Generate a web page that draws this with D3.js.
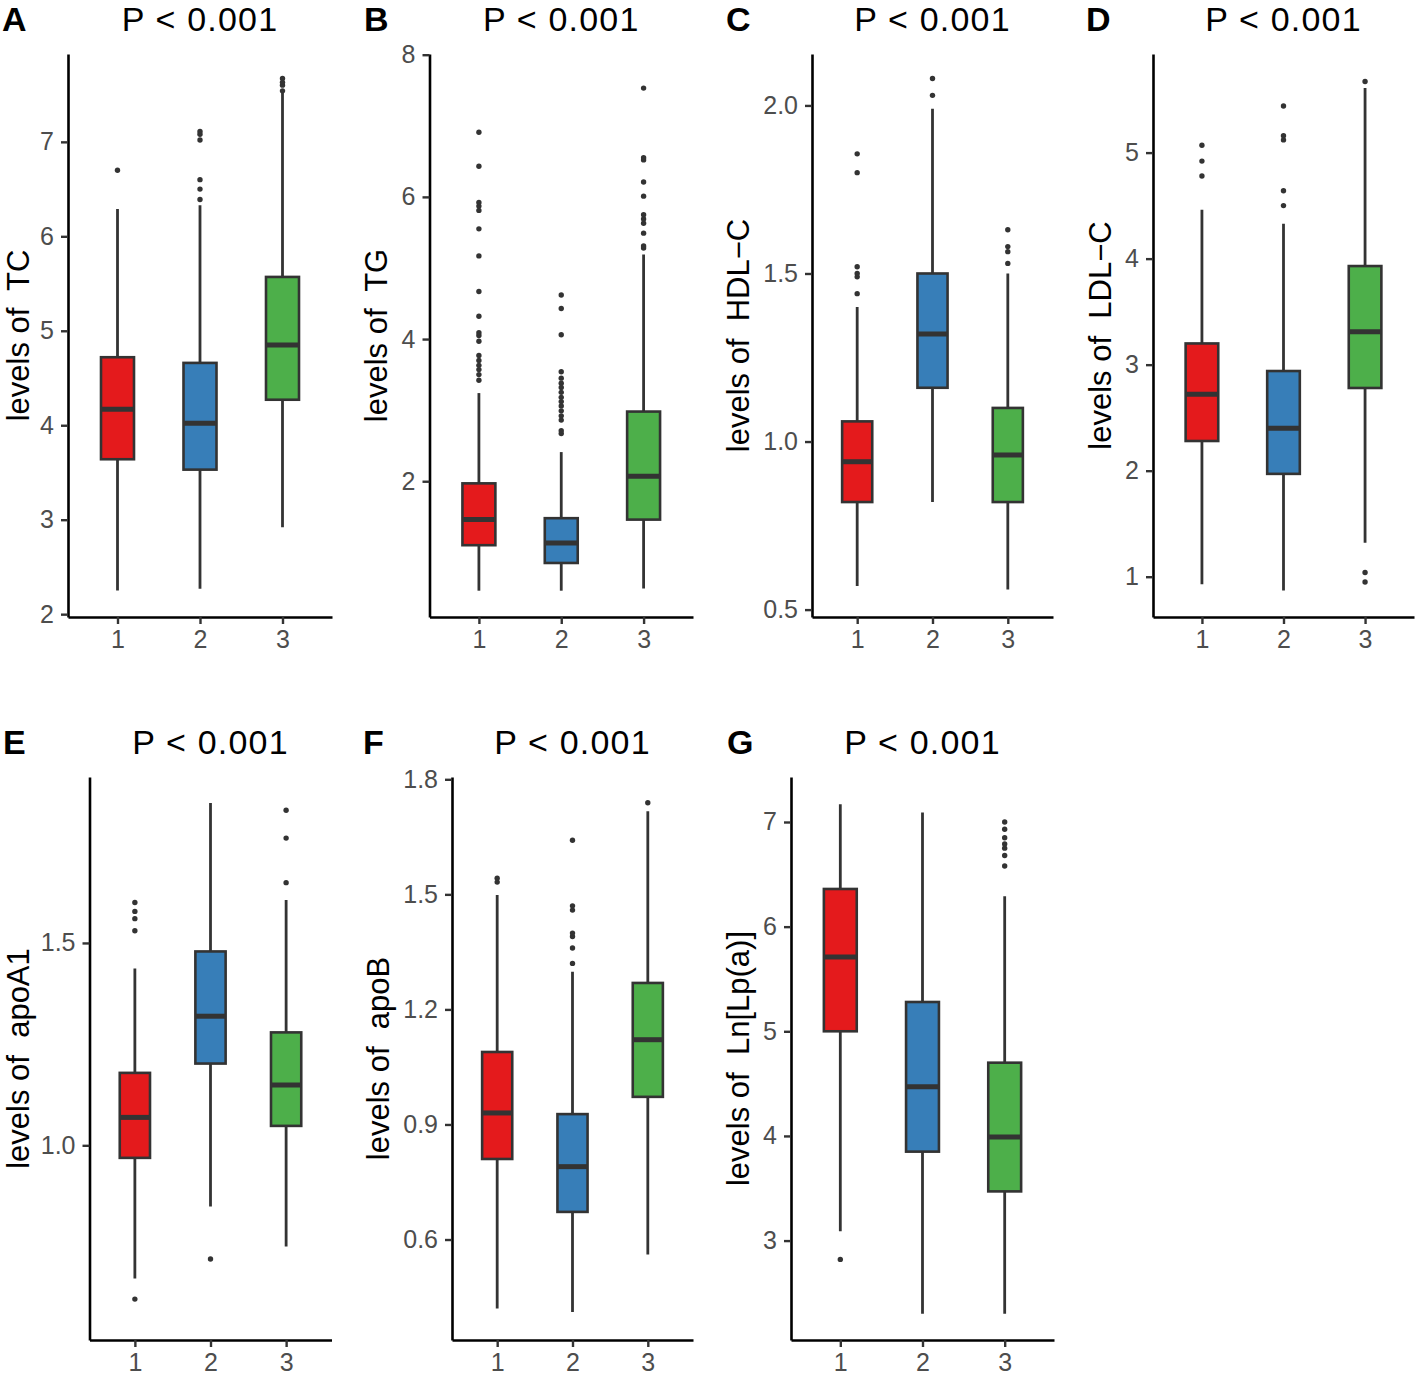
<!DOCTYPE html>
<html>
<head>
<meta charset="utf-8">
<script src="https://cdn.jsdelivr.net/npm/d3@7"></script>
<style>
    body { margin: 0; background: #fff; }
    svg { display: block; font-family: "Liberation Sans", Arial, sans-serif; }
    .tick text { fill: #4d4d4d; font-size: 25px; }
</style>
</head>
<body>
<svg></svg>
<script>
var groups = ["1", "2", "3"];
var groupColors = ["#e41a1c", "#377eb8", "#4daf4a"];

// box stats per group: [lower whisker, q1, median, q3, upper whisker]
var tcStats = [[2.25, 3.64, 4.17, 4.72, 6.29], [2.27, 3.53, 4.02, 4.66, 6.33], [2.92, 4.27, 4.85, 5.57, 7.52]];
var tcOutliers = [[6.70], [6.39, 6.50, 6.60, 7.02, 7.08, 7.11], [7.54, 7.60, 7.63, 7.67]];

var tgStats = [[0.46, 1.10, 1.46, 1.97, 3.24], [0.46, 0.85, 1.13, 1.48, 2.41], [0.49, 1.46, 2.07, 2.98, 5.19]];
var tgOutliers = [
    [3.42, 3.50, 3.57, 3.63, 3.70, 3.77, 3.97, 4.05, 4.09, 4.32, 4.67, 5.17, 5.55, 5.81, 5.87, 5.92, 6.43, 6.91],
    [2.67, 2.71, 2.86, 2.92, 2.99, 3.06, 3.12, 3.18, 3.25, 3.32, 3.38, 3.45, 3.54, 4.06, 4.43, 4.62],
    [5.28, 5.31, 5.49, 5.63, 5.69, 5.75, 6.01, 6.21, 6.52, 6.55, 7.53]
];

var hdlStats = [[0.57, 0.82, 0.94, 1.06, 1.40], [0.82, 1.16, 1.32, 1.50, 1.99], [0.56, 0.82, 0.96, 1.10, 1.50]];
var hdlOutliers = [[1.44, 1.49, 1.50, 1.52, 1.80, 1.856], [2.03, 2.08], [1.53, 1.565, 1.58, 1.63]];

var ldlStats = [[0.93, 2.28, 2.72, 3.20, 4.46], [0.87, 1.97, 2.40, 2.94, 4.33], [1.32, 2.78, 3.31, 3.93, 5.61]];
var ldlOutliers = [[4.78, 4.92, 5.07], [4.50, 4.64, 5.12, 5.16, 5.44], [0.95, 1.04, 5.67]];

var apoa1Stats = [[0.671, 0.969, 1.069, 1.179, 1.437], [0.849, 1.202, 1.319, 1.479, 1.846], [0.75, 1.048, 1.149, 1.279, 1.606]];
var apoa1Outliers = [[0.62, 1.53, 1.56, 1.578, 1.60], [0.719], [1.649, 1.759, 1.828]];

var apobStats = [[0.420, 0.810, 0.930, 1.089, 1.498], [0.411, 0.672, 0.790, 0.927, 1.298], [0.561, 0.972, 1.121, 1.269, 1.717]];
var apobOutliers = [[1.532, 1.542], [1.32, 1.36, 1.39, 1.399, 1.459, 1.47, 1.641], [1.739]];

var lpaStats = [[3.09, 5.00, 5.71, 6.36, 7.17], [2.30, 3.85, 4.47, 5.28, 7.09], [2.30, 3.47, 3.99, 4.70, 6.29]];
var lpaOutliers = [[2.82], [], [6.58, 6.68, 6.75, 6.79, 6.85, 6.93, 7.00]];

var pLabel = "P < 0.001";

var panels = [
    {letter: "A", name: "TC", stats: tcStats, outliers: tcOutliers, domain: [1.97, 7.93], ticks: [2, 3, 4, 5, 6, 7], fmt: "d",
        left: 68, right: 332, top: 54, bottom: 617, letterX: 2},
    {letter: "B", name: "TG", stats: tgStats, outliers: tgOutliers, domain: [0.09, 8.01], ticks: [2, 4, 6, 8], fmt: "d",
        left: 429.5, right: 693, top: 54, bottom: 617, letterX: 364},
    {letter: "C", name: "HDL\u2212C", stats: hdlStats, outliers: hdlOutliers, domain: [0.478, 2.153], ticks: [0.5, 1.0, 1.5, 2.0], fmt: ".1f",
        left: 812, right: 1053, top: 54, bottom: 617, letterX: 726},
    {letter: "D", name: "LDL\u2212C", stats: ldlStats, outliers: ldlOutliers, domain: [0.62, 5.93], ticks: [1, 2, 3, 4, 5], fmt: "d",
        left: 1153, right: 1414, top: 54, bottom: 617, letterX: 1086},
    {letter: "E", name: "apoA1", stats: apoa1Stats, outliers: apoa1Outliers, domain: [0.519, 1.91], ticks: [1.0, 1.5], fmt: ".1f",
        left: 89.5, right: 331.5, top: 777, bottom: 1340, letterX: 3},
    {letter: "F", name: "apoB", stats: apobStats, outliers: apobOutliers, domain: [0.338, 1.806], ticks: [0.6, 0.9, 1.2, 1.5, 1.8], fmt: ".1f",
        left: 452, right: 693, top: 777, bottom: 1340, letterX: 363},
    {letter: "G", name: "Ln[Lp(a)]", stats: lpaStats, outliers: lpaOutliers, domain: [2.05, 7.43], ticks: [3, 4, 5, 6, 7], fmt: "d",
        left: 791, right: 1054, top: 777, bottom: 1340, letterX: 727}
];

var svg = d3.select("svg")
    .attr("width", 1418)
    .attr("height", 1376);

function drawPanel(p) {
    var g = svg.append("g");

    var xScale = d3.scaleLinear()
        .domain([0.4, 3.6])
        .range([p.left, p.right]);

    var yScale = d3.scaleLinear()
        .domain(p.domain)
        .range([p.bottom, p.top]);

    var boxHalf = 0.2;

    var boxes = g.selectAll("g.box")
        .data(p.stats)
        .enter()
        .append("g")
        .attr("class", "box");

    // whiskers
    boxes.append("line")
        .attr("x1", function (d, i) { return xScale(i + 1); })
        .attr("x2", function (d, i) { return xScale(i + 1); })
        .attr("y1", function (d) { return yScale(d[0]); })
        .attr("y2", function (d) { return yScale(d[4]); })
        .attr("stroke", "#333")
        .attr("stroke-width", 2.8);

    boxes.append("rect")
        .attr("x", function (d, i) { return xScale(i + 1 - boxHalf); })
        .attr("width", xScale(1 + boxHalf) - xScale(1 - boxHalf))
        .attr("y", function (d) { return yScale(d[3]); })
        .attr("height", function (d) { return yScale(d[1]) - yScale(d[3]); })
        .attr("fill", function (d, i) { return groupColors[i]; })
        .attr("stroke", "#333")
        .attr("stroke-width", 2.6);

    boxes.append("line")
        .attr("x1", function (d, i) { return xScale(i + 1 - boxHalf); })
        .attr("x2", function (d, i) { return xScale(i + 1 + boxHalf); })
        .attr("y1", function (d) { return yScale(d[2]); })
        .attr("y2", function (d) { return yScale(d[2]); })
        .attr("stroke", "#333")
        .attr("stroke-width", 5);

    // outliers
    var pts = [];
    p.outliers.forEach(function (arr, i) {
        arr.forEach(function (v) { pts.push({g: i + 1, v: v}); });
    });
    g.selectAll("circle")
        .data(pts)
        .enter()
        .append("circle")
        .attr("cx", function (d) { return xScale(d.g); })
        .attr("cy", function (d) { return yScale(d.v); })
        .attr("r", 2.7)
        .attr("fill", "#333");

    // axes
    var yAxis = d3.axisLeft(yScale)
        .tickValues(p.ticks)
        .tickFormat(d3.format(p.fmt))
        .tickSize(7)
        .tickSizeOuter(0)
        .tickPadding(7);

    var xAxis = d3.axisBottom(xScale)
        .tickValues([1, 2, 3])
        .tickFormat(function (d) { return groups[d - 1]; })
        .tickSize(7)
        .tickSizeOuter(0)
        .tickPadding(6);

    var yg = g.append("g")
        .attr("transform", "translate(" + p.left + ",0)")
        .call(yAxis);

    var xg = g.append("g")
        .attr("transform", "translate(0," + p.bottom + ")")
        .call(xAxis);

    [yg, xg].forEach(function (a) {
        a.select(".domain").attr("stroke", "#000").attr("stroke-width", 2.6);
        a.selectAll(".tick line").attr("stroke", "#333").attr("stroke-width", 2.4);
    });

    var axisW = yg.node().getBBox().width;
    // keep the rotated label inside the page edge
    var labelX = Math.max(p.left - axisW - 14, 29);

    g.append("text")
        .attr("transform", "translate(" + labelX + "," + ((p.top + p.bottom) / 2) + ") rotate(-90)")
        .attr("text-anchor", "middle")
        .attr("font-size", 31)
        .attr("fill", "#000")
        .attr("xml:space", "preserve")
        .style("white-space", "pre")
        .text("levels of  " + p.name);

    // title and panel letter
    g.append("text")
        .attr("x", (p.left + p.right) / 2)
        .attr("y", p.top - 23)
        .attr("text-anchor", "middle")
        .attr("font-size", 34)
        .attr("letter-spacing", 1.2)
        .attr("fill", "#000")
        .text(pLabel);

    g.append("text")
        .attr("x", p.letterX)
        .attr("y", p.top - 23)
        .attr("font-size", 34)
        .attr("font-weight", "bold")
        .attr("fill", "#000")
        .text(p.letter);
}

panels.forEach(drawPanel);
</script>
</body>
</html>
